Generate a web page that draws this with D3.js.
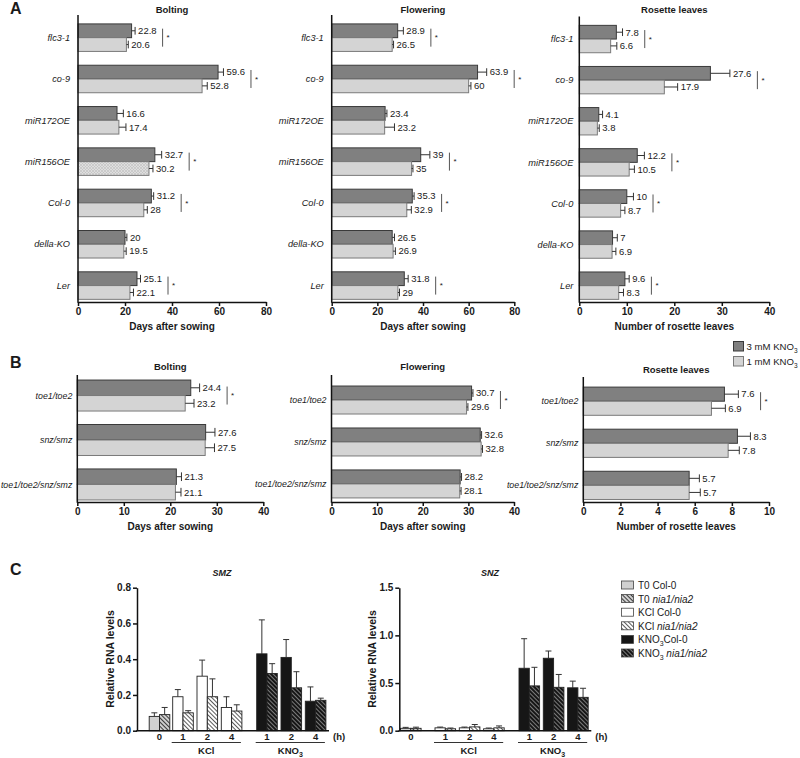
<!DOCTYPE html>
<html><head><meta charset="utf-8">
<script src="https://cdn.jsdelivr.net/npm/d3@7"></script>
<style>
body{margin:0;background:#fff;}
text{font-family:Arial,"Liberation Sans",Helvetica,sans-serif;fill:#1a1a1a;}
</style>
</head><body>
<svg id="fig" width="800" height="758"></svg>
<script>
// ---------------- DATA ----------------
// Panel A
const genotypesA = ["flc3-1","co-9","miR172OE","miR156OE","Col-0","della-KO","Ler"];
const boltHi    = [22.8,59.6,16.6,32.7,31.2,20,25.1];
const boltHiErr = [1.5,2.3,2.7,2.9,1.0,0.8,1.5];
const boltLo    = [20.6,52.8,17.4,30.2,28,19.5,22.1];
const boltLoErr = [0.8,2.2,3.0,1.7,1.5,1.0,1.5];
const boltSig   = [1,1,0,1,1,0,1];
const flowHi    = [28.9,63.9,23.4,39,35.3,26.5,31.8];
const flowHiErr = [2.5,4.0,0.8,4.0,0.8,1.0,1.7];
const flowLo    = [26.5,60,23.2,35,32.9,26.9,29];
const flowLoErr = [0.6,1.0,4.3,0.6,2.0,1.0,0.7];
const flowSig   = [1,1,0,1,1,0,1];
const rosHi     = [7.8,27.6,4.1,12.2,10,7,9.6];
const rosHiErr  = [1.3,4.1,0.8,1.5,1.4,1.0,0.9];
const rosLo     = [6.6,17.9,3.8,10.5,8.7,6.9,8.3];
const rosLoErr  = [1.3,2.8,0.4,1.1,0.9,0.8,1.0];
const rosSig    = [1,1,0,1,1,0,1];
const ticksA80 = [0,20,40,60,80];
const ticksA40 = [0,10,20,30,40];
// Panel B
const genotypesB = ["toe1/toe2","snz/smz","toe1/toe2/snz/smz"];
const boltBHi = [24.4,27.6,21.3], boltBHiErr = [1.9,2.0,1.1];
const boltBLo = [23.2,27.5,21.1], boltBLoErr = [1.9,2.0,1.2];
const flowBHi = [30.7,32.6,28.2], flowBHiErr = [0.3,0.3,0.3];
const flowBLo = [29.6,32.8,28.1], flowBLoErr = [0.3,0.3,0.3];
const rosBHi  = [7.6,8.3,5.7],   rosBHiErr  = [0.75,0.7,0.55];
const rosBLo  = [6.9,7.8,5.7],   rosBLoErr  = [0.75,0.6,0.6];
const sigB = [1,0,0];
const ticksB40 = [0,10,20,30,40];
const ticksB10 = [0,2,4,6,8,10];
const legendB = ["3 mM KNO", "1 mM KNO"];
// Panel C
const timeLabels = ["0","1","2","4","1","2","4"];
const treatGroups = ["KCl","KNO3"];
const smzCol    = [0.08,0.19,0.305,0.13,0.43,0.41,0.165];
const smzColErr = [0.02,0.04,0.09,0.06,0.19,0.10,0.08];
const smzNia    = [0.09,0.10,0.19,0.11,0.32,0.24,0.17];
const smzNiaErr = [0.04,0.012,0.10,0.035,0.055,0.09,0.012];
const snzCol    = [0.025,0.03,0.03,0.02,0.655,0.76,0.45];
const snzColErr = [0.01,0.008,0.008,0.008,0.31,0.076,0.07];
const snzNia    = [0.025,0.02,0.04,0.03,0.47,0.455,0.35];
const snzNiaErr = [0.012,0.008,0.025,0.02,0.195,0.135,0.095];
const ticksSMZ = [0,0.2,0.4,0.6,0.8];
const ticksSNZ = [0,0.5,1.0,1.5];
const legendC = ["T0 Col-0","T0 nia1/nia2","KCl Col-0","KCl nia1/nia2","KNO3Col-0","KNO3 nia1/nia2"];

// ---------------- SETUP ----------------
const svg = d3.select("#fig");
const defs = svg.append("defs");
function hatch(id, bg, line, lw, size, angle){
  const p = defs.append("pattern").attr("id",id).attr("patternUnits","userSpaceOnUse")
    .attr("width",size).attr("height",size).attr("patternTransform",`rotate(${angle})`);
  p.append("rect").attr("width",size).attr("height",size).attr("fill",bg);
  p.append("line").attr("x1",size/2).attr("x2",size/2).attr("y1",0).attr("y2",size)
    .attr("stroke",line).attr("stroke-width",lw);
}
hatch("hGray","#cfcfcf","#3a3a3a",1,3,-45);
hatch("hWhite","#ffffff","#4a4a4a",0.9,3,-45);
hatch("hBlack","#161616","#a8a8a8",0.7,3,-45);
// light dotted pattern for miR156OE
(function(){
  const p = defs.append("pattern").attr("id","dotLight").attr("patternUnits","userSpaceOnUse")
    .attr("width",3).attr("height",3);
  p.append("rect").attr("width",3).attr("height",3).attr("fill","#dedede");
  p.append("path").attr("d","M0,0L3,3M3,0L0,3").attr("stroke","#bdbdbd").attr("stroke-width",0.6);
})();

const DARK = "#808080", DARKS = "#3a3a3a", LIGHT = "#d4d4d4", LIGHTS = "#7a7a7a";

function letter(t,x,y){
  svg.append("text").attr("x",x).attr("y",y).attr("font-size",16).attr("font-weight","bold").text(t);
}
letter("A",10,14); letter("B",10,368); letter("C",10,575);

// ---------------- HORIZONTAL BAR CHART ----------------
function hbar(cfg){
  const g = svg.append("g");
  const x = d3.scaleLinear().domain([0,cfg.max]).range([cfg.x0,cfg.x1]);
  const y = d3.scaleBand().domain(cfg.cats).range([cfg.yTop,cfg.yBot])
    .paddingInner(cfg.pi).paddingOuter(cfg.po).align(cfg.al);
  const bh = y.bandwidth()/2;
  const rows = cfg.cats.flatMap((c,i)=>[
    {c,i,k:0,v:cfg.hi[i],e:cfg.hiErr[i]},
    {c,i,k:1,v:cfg.lo[i],e:cfg.loErr[i]}
  ]);
  // title
  g.append("text").attr("x",(cfg.x0+cfg.x1)/2).attr("y",cfg.titleY).attr("text-anchor","middle")
    .attr("font-size",9.5).attr("font-weight","bold").text(cfg.title);
  // bars
  g.selectAll("rect.bar").data(rows).join("rect").attr("class","bar")
    .attr("x",x(0)).attr("y",d=>y(d.c)+d.k*bh).attr("width",d=>x(d.v)-x(0)).attr("height",bh)
    .attr("fill",d=>d.k===0?DARK:(cfg.special===d.c?"url(#dotLight)":LIGHT))
    .attr("stroke",d=>d.k===0?DARKS:LIGHTS).attr("stroke-width",1);
  // error bars
  const cy = d=>y(d.c)+d.k*bh+bh/2;
  g.selectAll("line.err").data(rows).join("line").attr("class","err")
    .attr("x1",d=>x(d.v)).attr("x2",d=>x(d.v+d.e)).attr("y1",cy).attr("y2",cy)
    .attr("stroke","#333").attr("stroke-width",1);
  g.selectAll("line.cap").data(rows).join("line").attr("class","cap")
    .attr("x1",d=>x(d.v+d.e)).attr("x2",d=>x(d.v+d.e)).attr("y1",d=>cy(d)-bh*0.28).attr("y2",d=>cy(d)+bh*0.28)
    .attr("stroke","#333").attr("stroke-width",1);
  // value labels
  const labs = g.selectAll("text.val").data(rows).join("text").attr("class","val")
    .attr("x",d=>x(d.v+d.e)+3).attr("y",d=>cy(d)).attr("dy","0.35em")
    .attr("font-size",9.5).attr("fill","#333").text(d=>d3.format("~g")(d.v));
  // significance
  cfg.cats.forEach((c,i)=>{
    if(!cfg.sig[i]) return;
    let end = 0;
    labs.filter(d=>d.i===i).each(function(){const b=this.getBBox(); end=Math.max(end,b.x+b.width);});
    const xs = end+6, yc = y(c)+bh;
    g.append("line").attr("x1",xs).attr("x2",xs).attr("y1",yc-9).attr("y2",yc+9)
      .attr("stroke","#555").attr("stroke-width",1);
    g.append("text").attr("x",xs+4).attr("y",yc).attr("dy","0.35em").attr("font-size",8).text("*");
  });
  // category labels
  g.selectAll("text.cat").data(cfg.cats).join("text").attr("class","cat")
    .attr("x",x(0)-cfg.catGap).attr("y",d=>y(d)+bh).attr("dy","0.35em").attr("text-anchor","end")
    .attr("font-size",cfg.catSize).attr("font-style","italic").attr("fill","#222").text(d=>d);
  // axes
  const ax = g.append("g").attr("transform",`translate(0,${cfg.yBot})`)
    .call(d3.axisBottom(x).tickValues(cfg.ticks).tickSize(4).tickSizeOuter(0).tickPadding(2));
  ax.select(".domain").attr("stroke","#111").attr("stroke-width",1.5);
  ax.selectAll(".tick line").attr("stroke","#111").attr("stroke-width",1.5);
  ax.selectAll(".tick text").attr("font-size",10).attr("font-weight","bold").attr("fill","#111")
    .attr("font-family","Arial,'Liberation Sans',sans-serif");
  g.append("line").attr("x1",x(0)).attr("x2",x(0)).attr("y1",cfg.yTop).attr("y2",cfg.yBot+0.75)
    .attr("stroke","#111").attr("stroke-width",1.5);
  g.append("text").attr("x",(cfg.x0+cfg.x1)/2).attr("y",cfg.xTitleY).attr("text-anchor","middle")
    .attr("font-size",10).attr("font-weight","bold").text(cfg.xTitle);
}

// Panel A
const aLayout = {cats:genotypesA, yTop:15, yBot:302, pi:0.334, po:0.14, al:0.77, titleY:13, xTitleY:330, catGap:8, catSize:9.2};
hbar({...aLayout, x0:78, x1:266, max:80, ticks:ticksA80, hi:boltHi, hiErr:boltHiErr, lo:boltLo, loErr:boltLoErr, sig:boltSig, title:"Bolting", xTitle:"Days after sowing", special:"miR156OE"});
hbar({...aLayout, x0:331.7, x1:514.3, max:80, ticks:ticksA80, hi:flowHi, hiErr:flowHiErr, lo:flowLo, loErr:flowLoErr, sig:flowSig, title:"Flowering", xTitle:"Days after sowing"});
hbar({...aLayout, yTop:16.5, catGap:6, x0:579.3, x1:769.3, max:40, ticks:ticksA40, hi:rosHi, hiErr:rosHiErr, lo:rosLo, loErr:rosLoErr, sig:rosSig, title:"Rosette leaves", xTitle:"Number of rosette leaves"});

// Panel B
const bLayout = {cats:genotypesB, yBot:502, titleY:370, xTitleY:530, catGap:5, catSize:8.8};
hbar({...bLayout, yTop:375, pi:0.303, po:0.08, al:0.71,
  x0:77.3, x1:263.3, max:40, ticks:ticksB40, hi:boltBHi, hiErr:boltBHiErr, lo:boltBLo, loErr:boltBLoErr, sig:sigB, title:"Bolting", xTitle:"Days after sowing"});
hbar({...bLayout, yTop:375, pi:0.333, po:0.18, al:0.73,
  x0:331.5, x1:514, max:40, ticks:ticksB40, hi:flowBHi, hiErr:flowBHiErr, lo:flowBLo, loErr:flowBLoErr, sig:sigB, title:"Flowering", xTitle:"Days after sowing"});
hbar({...bLayout, yTop:377, pi:0.33, po:0.15, al:0.8, titleY:373,
  x0:583.3, x1:769, max:10, ticks:ticksB10, hi:rosBHi, hiErr:rosBHiErr, lo:rosBLo, loErr:rosBLoErr, sig:sigB, title:"Rosette leaves", xTitle:"Number of rosette leaves"});

// Legend B
legendB.forEach((t,i)=>{
  const yy = 341.5 + i*15;
  svg.append("rect").attr("x",733.5).attr("y",yy).attr("width",10).attr("height",9.5)
    .attr("fill",i===0?DARK:LIGHT).attr("stroke",i===0?DARKS:LIGHTS);
  const tx = svg.append("text").attr("x",746.5).attr("y",yy+8.5).attr("font-size",9.6).attr("fill","#222");
  tx.append("tspan").text(t);
  tx.append("tspan").attr("dy",3).attr("font-size",6.5).text("3");
});

// ---------------- PANEL C ----------------
const fills = {col:["#d0d0d0","#ffffff","#161616"], nia:["url(#hGray)","url(#hWhite)","url(#hBlack)"]};
function colChart(cfg){
  const g = svg.append("g");
  const y = d3.scaleLinear().domain([0,cfg.max]).range([730.7,587.7]);
  const bw = 10.3, step = 24.3;
  const center = i => i===0 ? cfg.ax+cfg.first : (i<=3 ? cfg.ax+46+(i-1)*step : cfg.ax+130+(i-4)*step);
  const grp = i => i===0?0:(i<=3?1:2);
  const rows = timeLabels.flatMap((t,i)=>[
    {i,k:0,v:cfg.col[i],e:cfg.colErr[i]},
    {i,k:1,v:cfg.nia[i],e:cfg.niaErr[i]}
  ]);
  const bx = d=>center(d.i)-bw+d.k*bw;
  // error bars (drawn first, upward only)
  g.selectAll("line.ev").data(rows).join("line").attr("class","ev")
    .attr("x1",d=>bx(d)+bw/2).attr("x2",d=>bx(d)+bw/2).attr("y1",d=>y(d.v)).attr("y2",d=>y(d.v+d.e))
    .attr("stroke","#333").attr("stroke-width",1);
  g.selectAll("line.ec").data(rows).join("line").attr("class","ec")
    .attr("x1",d=>bx(d)+bw/2-3).attr("x2",d=>bx(d)+bw/2+3).attr("y1",d=>y(d.v+d.e)).attr("y2",d=>y(d.v+d.e))
    .attr("stroke","#333").attr("stroke-width",1);
  g.selectAll("rect.cb").data(rows).join("rect").attr("class","cb")
    .attr("x",bx).attr("width",bw).attr("y",d=>y(d.v)).attr("height",d=>y(0)-y(d.v))
    .attr("fill",d=>d.k===0?fills.col[grp(d.i)]:fills.nia[grp(d.i)])
    .attr("stroke","#222").attr("stroke-width",0.9);
  // y axis
  const ay = g.append("g").attr("transform",`translate(${cfg.ax},0)`)
    .call(d3.axisLeft(y).tickValues(cfg.ticks).tickSize(4).tickSizeOuter(0).tickPadding(2).tickFormat(d3.format(".1f")));
  ay.select(".domain").attr("stroke","#111").attr("stroke-width",1.5);
  ay.selectAll(".tick line").attr("stroke","#111").attr("stroke-width",1.5);
  ay.selectAll(".tick text").attr("font-size",10).attr("font-weight","bold").attr("fill","#111")
    .attr("font-family","Arial,'Liberation Sans',sans-serif");
  // x axis line
  g.append("line").attr("x1",cfg.ax-0.75).attr("x2",cfg.ax+192).attr("y1",y(0)).attr("y2",y(0))
    .attr("stroke","#111").attr("stroke-width",1.5);
  g.selectAll("text.tl").data(timeLabels).join("text").attr("class","tl")
    .attr("x",(d,i)=>center(i)).attr("y",740).attr("text-anchor","middle")
    .attr("font-size",9.5).attr("font-weight","bold").text(d=>d);
  g.append("text").attr("x",cfg.ax+196).attr("y",740).attr("font-size",9.5).attr("font-weight","bold").text("(h)");
  // group underlines
  treatGroups.forEach((tg,j)=>{
    const a = center(1+3*j)-bw-1, b = center(3+3*j)+bw-1;
    g.append("line").attr("x1",a).attr("x2",b).attr("y1",742.5).attr("y2",742.5).attr("stroke","#333").attr("stroke-width",1);
    const t = g.append("text").attr("x",(a+b)/2).attr("y",754).attr("text-anchor","middle")
      .attr("font-size",9.5).attr("font-weight","bold");
    if(tg==="KNO3"){ t.append("tspan").text("KNO"); t.append("tspan").attr("dy",2.5).attr("font-size",7).text("3"); }
    else t.text(tg);
  });
  // titles
  g.append("text").attr("x",cfg.titleX).attr("y",576).attr("text-anchor","middle")
    .attr("font-size",9).attr("font-weight","bold").attr("font-style","italic").text(cfg.title);
  g.append("text").attr("transform",`translate(${cfg.ytX},659) rotate(-90)`).attr("text-anchor","middle")
    .attr("font-size",10.5).attr("font-weight","bold").text("Relative RNA levels");
}
colChart({ax:137, first:22.5, max:0.8, ticks:ticksSMZ, col:smzCol, colErr:smzColErr, nia:smzNia, niaErr:smzNiaErr, title:"SMZ", titleX:222, ytX:114});
colChart({ax:399.3, first:11.5, max:1.5, ticks:ticksSNZ, col:snzCol, colErr:snzColErr, nia:snzNia, niaErr:snzNiaErr, title:"SNZ", titleX:490, ytX:376});

// Legend C
const legFills = ["#d0d0d0","url(#hGray)","#ffffff","url(#hWhite)","#161616","url(#hBlack)"];
legendC.forEach((t,i)=>{
  const yy = 581 + i*13.6;
  svg.append("rect").attr("x",621.5).attr("y",yy).attr("width",12).attr("height",8)
    .attr("fill",legFills[i]).attr("stroke","#444").attr("stroke-width",0.8);
  const tx = svg.append("text").attr("x",638).attr("y",yy+8).attr("font-size",10).attr("fill","#333");
  const m = t.match(/^(T0|KCl|KNO3)( ?)(.*)$/);
  if(m[1]==="KNO3"){ tx.append("tspan").text("KNO"); tx.append("tspan").attr("dy",2.5).attr("font-size",7).text("3"); }
  else tx.append("tspan").text(m[1]);
  const rest = tx.append("tspan").attr("dy",m[1]==="KNO3"?-2.5:0).text((m[2]||"")+m[3]);
  if(m[3].startsWith("nia")) rest.attr("font-style","italic");
});
</script>
</body></html>
